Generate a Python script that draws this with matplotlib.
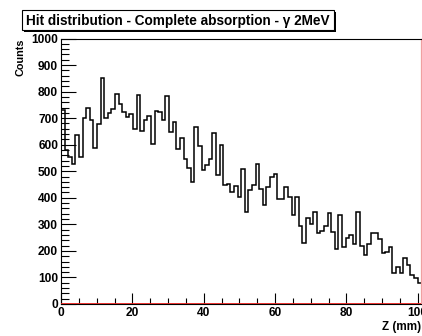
import numpy as np
import matplotlib
matplotlib.use("Agg")
import matplotlib.pyplot as plt
from matplotlib.patches import Rectangle
from matplotlib.ticker import MultipleLocator

# hit counts per 1-bin slice along Z
counts = [
    730, 579, 554, 526, 635, 554, 702, 739, 694, 589,
    679, 852, 702, 721, 735, 792, 754, 723, 704, 717,
    660, 786, 652, 694, 707, 604, 727, 723, 692, 783,
    648, 685, 585, 625, 548, 514, 460, 667, 595, 504,
    523, 545, 645, 485, 598, 447, 451, 422, 444, 403,
    510, 347, 429, 447, 526, 435, 372, 441, 479, 491,
    397, 397, 439, 403, 335, 403, 293, 228, 324, 303,
    347, 266, 276, 292, 343, 273, 206, 335, 213, 250,
    259, 226, 347, 218, 184, 226, 266, 266, 243, 193,
    197, 213, 115, 138, 118, 172, 147, 109, 97, 80,
]
zRange = (0, 101)
countRange = (0, 1000)
xTicks = [0, 20, 40, 60, 80, 100]
yTicks = [0, 100, 200, 300, 400, 500, 600, 700, 800, 900, 1000]

title = "Hit distribution - Complete absorption - \u03b3 2MeV"
xTitle = "Z (mm)"
yTitle = "Counts"

W, H = 422, 336


def px(x, y):
    # pixel coords (origin top-left) -> figure fraction
    return x / W, 1 - y / H


plt.rcParams["font.family"] = ["Liberation Sans", "DejaVu Sans"]
plt.rcParams["font.weight"] = "bold"

fig = plt.figure(figsize=(W / 100, H / 100), dpi=100)
fig.patch.set_facecolor("white")

left, top = px(61, 38.5)
right, bottom = px(421.3, 304)
ax = fig.add_axes([left, bottom, right - left, top - bottom])

edges = np.linspace(zRange[0], zRange[1], len(counts) + 1)
ax.stairs(counts, edges, color="black", linewidth=1.1, baseline=None)
ax.axhline(0, color="#e8201c", linewidth=2.0, zorder=5)

ax.set_xlim(*zRange)
ax.set_ylim(*countRange)
ax.set_xticks(xTicks)
ax.set_yticks(yTicks)
ax.xaxis.set_minor_locator(MultipleLocator(5))
ax.yaxis.set_minor_locator(MultipleLocator(20))

ax.tick_params(axis="x", which="major", direction="in", length=8, width=0.8,
               labelsize=8.6, pad=2.5)
ax.tick_params(axis="x", which="minor", direction="in", length=4, width=0.8)
ax.tick_params(axis="y", which="major", direction="in", length=10.5, width=0.8,
               labelsize=8.6, pad=2.0)
ax.tick_params(axis="y", which="minor", direction="in", length=5.5, width=0.8)

for side in ["left", "top", "bottom"]:
    ax.spines[side].set_linewidth(0.8)
ax.spines["right"].set_color("#f0a0a0")
ax.spines["right"].set_linewidth(0.9)

# axis titles, ROOT style: pinned to the far end of each axis
fig.text(*px(421, 327), xTitle, ha="right", va="center", fontsize=8.4,
         fontweight="bold")
fig.text(*px(20, 39), yTitle, ha="center", va="top", rotation=90,
         fontsize=7.8, fontweight="bold")

# title pave with drop shadow
bx0, by0, bx1, by1 = 22, 10, 334, 30
shadow = 2
x0, y1 = px(bx0 + shadow, by1 + shadow)
x1, y0 = px(bx1 + shadow, by0 + shadow)
fig.patches.append(Rectangle((x0, y1), x1 - x0, y0 - y1, transform=fig.transFigure,
                             facecolor="black", edgecolor="black", linewidth=0))
x0, y1 = px(bx0, by1)
x1, y0 = px(bx1, by0)
fig.patches.append(Rectangle((x0, y1), x1 - x0, y0 - y1, transform=fig.transFigure,
                             facecolor="white", edgecolor="black", linewidth=0.8))
fig.text(*px((bx0 + bx1) / 2, (by0 + by1) / 2 + 0.5), title, ha="center",
         va="center", fontsize=9.8, fontweight="bold")

fig.savefig("out.png", dpi=100, facecolor="white")
